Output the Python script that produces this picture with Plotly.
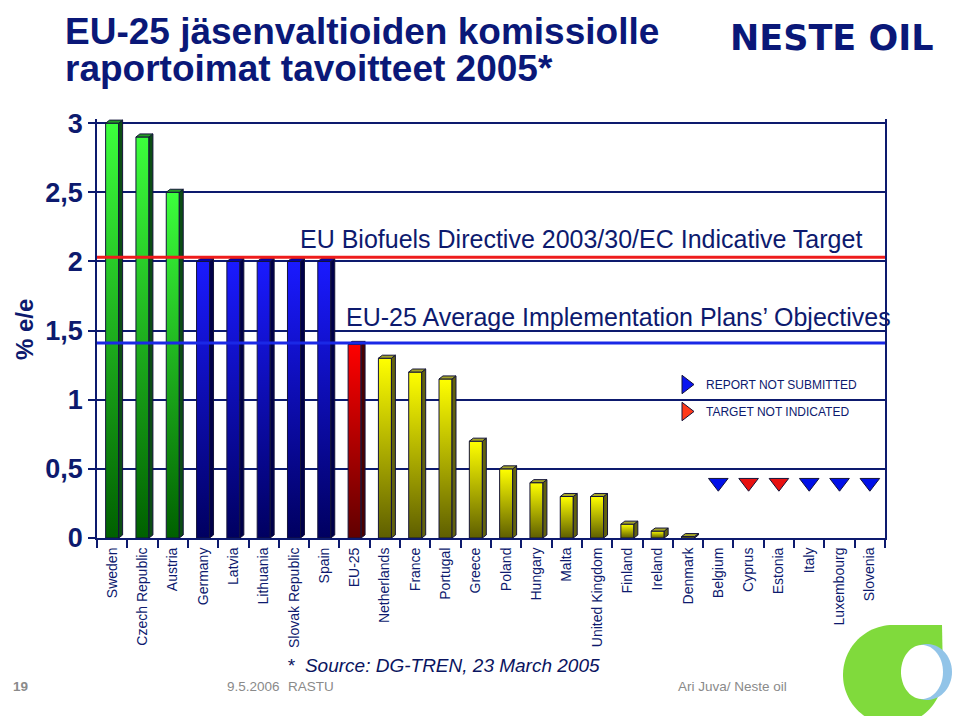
import numpy as np
import plotly.graph_objects as go

# ---------------- data ----------------
categories = ["Sweden", "Czech Republic", "Austria", "Germany", "Latvia", "Lithuania",
              "Slovak Republic", "Spain", "EU-25", "Netherlands", "France", "Portugal",
              "Greece", "Poland", "Hungary", "Malta", "United Kingdom", "Finland",
              "Ireland", "Denmark", "Belgium", "Cyprus", "Estonia", "Italy",
              "Luxembourg", "Slovenia"]
targets = [3.0, 2.9, 2.5, 2.0, 2.0, 2.0, 2.0, 2.0, 1.4, 1.3, 1.2, 1.15, 0.7, 0.5, 0.4,
           0.3, 0.3, 0.1, 0.05, 0.01, None, None, None, None, None, None]
groups = (["above"] * 3 + ["target"] * 5 + ["average"] + ["below"] * 11 + [None] * 6)
missing_status = [None] * 20 + ["not submitted", "not indicated", "not indicated",
                                "not submitted", "not submitted", "not submitted"]
directive_target = 2.03
average_objective = 1.41
flag_level = 0.4
y_ticks = [0, 0.5, 1, 1.5, 2, 2.5, 3]
y_ticklabels = ["0", "0,5", "1", "1,5", "2", "2,5", "3"]

# ---------------- styles ----------------
NAVY = "#0d1a6e"
GREY = "#8a8a8a"
OUTLINE = "#14143a"
GROUP_STYLE = {
    "above":   dict(top="#3cff3c", bottom="#006000", side="#0c4d14", cap="#249a24"),
    "target":  dict(top="#1a1aff", bottom="#000060", side="#00004a", cap="#0000a8"),
    "average": dict(top="#ff0000", bottom="#600000", side="#4a0000", cap="#a00000"),
    "below":   dict(top="#ffff00", bottom="#5e5e00", side="#62620e", cap="#a4a428"),
}
STATUS_STYLE = {
    "not submitted": dict(color="#0010e8", legend="#0a14f0", name="REPORT NOT SUBMITTED"),
    "not indicated": dict(color="#e81010", legend="#ff3a1a", name="TARGET NOT INDICATED"),
}
HALF_W = 0.215   # front face half-width (category units)
DEPTH_X = 0.13   # 3D depth
DEPTH_Y = 0.022

# page is rendered with an 8px body margin: figure origin sits at page (8, 8)
OX, OY = 8, 8
PAGE_W, PAGE_H = 960, 716
PLOT_L, PLOT_R, PLOT_T, PLOT_B = 97, 885, 119, 538   # plot area in page pixels
W, H = PAGE_W - OX, PAGE_H - OY
PW, PH = PLOT_R - PLOT_L, PLOT_B - PLOT_T


def fx(px):
    return (px - PLOT_L) / PW


def fy(py):
    return (PLOT_B - py) / PH


fig = go.Figure()

# ---------------- bars (3D look) ----------------
for g, st in GROUP_STYLE.items():
    sx, sy, tx, ty = [], [], [], []
    for i, (v, gg) in enumerate(zip(targets, groups)):
        if gg != g or v is None:
            continue
        x0, x1 = i - HALF_W, i + HALF_W
        fig.add_trace(go.Scatter(
            x=[x0, x1, x1, x0, x0], y=[0, 0, v, v, 0], mode="lines", fill="toself",
            line=dict(color=OUTLINE, width=1),
            fillgradient=dict(type="vertical", colorscale=[[0, st["bottom"]], [1, st["top"]]]),
            name=categories[i], hoverinfo="skip", showlegend=False))
        sx += [x1, x1 + DEPTH_X, x1 + DEPTH_X, x1, x1, None]
        sy += [0, DEPTH_Y, v + DEPTH_Y, v, 0, None]
        tx += [x0, x1, x1 + DEPTH_X, x0 + DEPTH_X, x0, None]
        ty += [v, v, v + DEPTH_Y, v + DEPTH_Y, v, None]
    fig.add_trace(go.Scatter(x=sx, y=sy, mode="lines", fill="toself", fillcolor=st["side"],
                             line=dict(color=OUTLINE, width=1), hoverinfo="skip", showlegend=False))
    fig.add_trace(go.Scatter(x=tx, y=ty, mode="lines", fill="toself", fillcolor=st["cap"],
                             line=dict(color=OUTLINE, width=1), hoverinfo="skip", showlegend=False))

# ---------------- reference lines ----------------
fig.add_trace(go.Scatter(x=[-0.5, len(categories) - 0.5], y=[directive_target] * 2, mode="lines",
                         line=dict(color="#ee1c1c", width=3), hoverinfo="skip", showlegend=False))
fig.add_trace(go.Scatter(x=[-0.5, len(categories) - 0.5], y=[average_objective] * 2, mode="lines",
                         line=dict(color="#1a28e6", width=3), hoverinfo="skip", showlegend=False))

# ---------------- flags for missing countries ----------------
for status, st in STATUS_STYLE.items():
    idx = [i for i, s in enumerate(missing_status) if s == status]
    fig.add_trace(go.Scatter(x=idx, y=[flag_level] * len(idx), mode="markers",
                             marker=dict(symbol="triangle-down", size=17, color=st["color"],
                                         line=dict(color=OUTLINE, width=1)),
                             hoverinfo="skip", showlegend=False))
for status in ["not submitted", "not indicated"]:
    st = STATUS_STYLE[status]
    fig.add_trace(go.Scatter(x=[None], y=[None], mode="markers", name=st["name"],
                             legendgroup=status,
                             marker=dict(symbol="triangle-right", size=16, color=st["legend"],
                                         line=dict(color=OUTLINE, width=1))))

# ---------------- axes ----------------
fig.update_xaxes(range=[-0.5, len(categories) - 0.5], tickmode="array", automargin=False,
                 tickvals=list(range(len(categories))), ticktext=categories, tickangle=-90,
                 tickfont=dict(size=14, color=NAVY), ticks="outside", ticklen=2,
                 tickcolor="rgba(0,0,0,0)", showgrid=False, zeroline=False,
                 showline=True, linecolor=NAVY, linewidth=2,
                 minor=dict(tickmode="array", tickvals=[i - 0.5 for i in range(len(categories) + 1)],
                            ticks="outside", ticklen=8, tickcolor=NAVY, tickwidth=1.5, showgrid=False))
fig.update_yaxes(range=[0, 3.03], tickmode="array", tickvals=y_ticks, ticktext=y_ticklabels,
                 automargin=False,
                 tickfont=dict(size=27, color=NAVY, family="Liberation Sans, Arial", weight="bold"),
                 ticks="outside", ticklen=7, tickcolor=NAVY, tickwidth=1.5,
                 showgrid=True, gridcolor=NAVY, gridwidth=1.5, zeroline=False,
                 showline=True, linecolor=NAVY, linewidth=1.5, mirror=True)

# ---------------- annotations ----------------
TITLE_FONT = dict(size=37, family="Liberation Sans, Arial", weight="bold", color="#0a1878")
ann = [
    dict(text="EU-25 jäsenvaltioiden komissiolle", x=fx(63), y=fy(31), xanchor="left",
         yanchor="middle", font=TITLE_FONT),
    dict(text="raportoimat tavoitteet 2005*", x=fx(63), y=fy(68), xanchor="left",
         yanchor="middle", font=TITLE_FONT),
    dict(text="NESTE OIL", x=fx(831), y=fy(38), xanchor="center", yanchor="middle",
         font=dict(size=35, family="DejaVu Sans", weight="bold", color="#0a1878")),
    dict(text="% e/e", x=fx(24), y=fy(330), xanchor="center", yanchor="middle", textangle=-90,
         font=dict(size=24, weight="bold", color=NAVY)),
    dict(text="EU Biofuels Directive 2003/30/EC Indicative Target", x=fx(581), y=fy(239),
         xanchor="center", yanchor="middle", font=dict(size=25, color=NAVY)),
    dict(text="EU-25 Average Implementation Plans’ Objectives", x=fx(618), y=fy(317),
         xanchor="center", yanchor="middle", font=dict(size=25, color=NAVY)),
    dict(text="<i>*  Source: DG-TREN, 23 March 2005</i>", x=fx(285), y=fy(665),
         xanchor="left", yanchor="middle", font=dict(size=19, color="#0a1460")),
    dict(text="<b>19</b>", x=fx(11), y=fy(686), xanchor="left", yanchor="middle",
         font=dict(size=13.5, color=GREY)),
    dict(text="9.5.2006", x=fx(282), y=fy(686), xanchor="right", yanchor="middle",
         font=dict(size=13.5, color=GREY)),
    dict(text="RASTU", x=fx(286), y=fy(686), xanchor="left", yanchor="middle",
         font=dict(size=13.5, color=GREY)),
    dict(text="Ari Juva/ Neste oil", x=fx(676), y=fy(686), xanchor="left", yanchor="middle",
         font=dict(size=13.5, color=GREY)),
]
for a in ann:
    a.update(xref="paper", yref="paper", showarrow=False)

# ---------------- decorative logo (bottom right) ----------------


def path_from(points):
    pts = [f"{fx(px):.5f},{fy(py):.5f}" for px, py in points]
    return "M" + " L".join(pts) + " Z"


cx, cy, r = 893, 675, 50
arc = [(cx + r * np.cos(t), cy - r * np.sin(t)) for t in np.linspace(0.5 * np.pi, 2.0 * np.pi, 80)]
green_path = path_from([(942, 625)] + arc)
blue_pts = [(927 + 25 * np.cos(t), 672 + 28 * np.sin(t)) for t in np.linspace(0, 2 * np.pi, 60)]
white_pts = [(922 + 21 * np.cos(t), 672 + 27 * np.sin(t)) for t in np.linspace(0, 2 * np.pi, 60)]
shapes = [
    dict(type="path", path=green_path, xref="paper", yref="paper", fillcolor="#80da3c",
         line=dict(width=0), layer="above"),
    dict(type="path", path=path_from(blue_pts), xref="paper", yref="paper", fillcolor="#92c4e8",
         line=dict(width=0), layer="above"),
    dict(type="path", path=path_from(white_pts), xref="paper", yref="paper", fillcolor="#ffffff",
         line=dict(width=0), layer="above"),
]

fig.update_layout(
    width=W, height=H,
    margin=dict(l=PLOT_L - OX, r=PAGE_W - PLOT_R, t=PLOT_T - OY, b=PAGE_H - PLOT_B),
    plot_bgcolor="white", paper_bgcolor="white",
    font=dict(family="Liberation Sans, Arial, sans-serif", color=NAVY),
    annotations=ann, shapes=shapes,
    legend=dict(x=fx(666), y=fy(370), xanchor="left", yanchor="top", bgcolor="rgba(0,0,0,0)",
                font=dict(size=12, color=NAVY), tracegroupgap=8, itemwidth=30),
)

fig.write_html("out.html")
